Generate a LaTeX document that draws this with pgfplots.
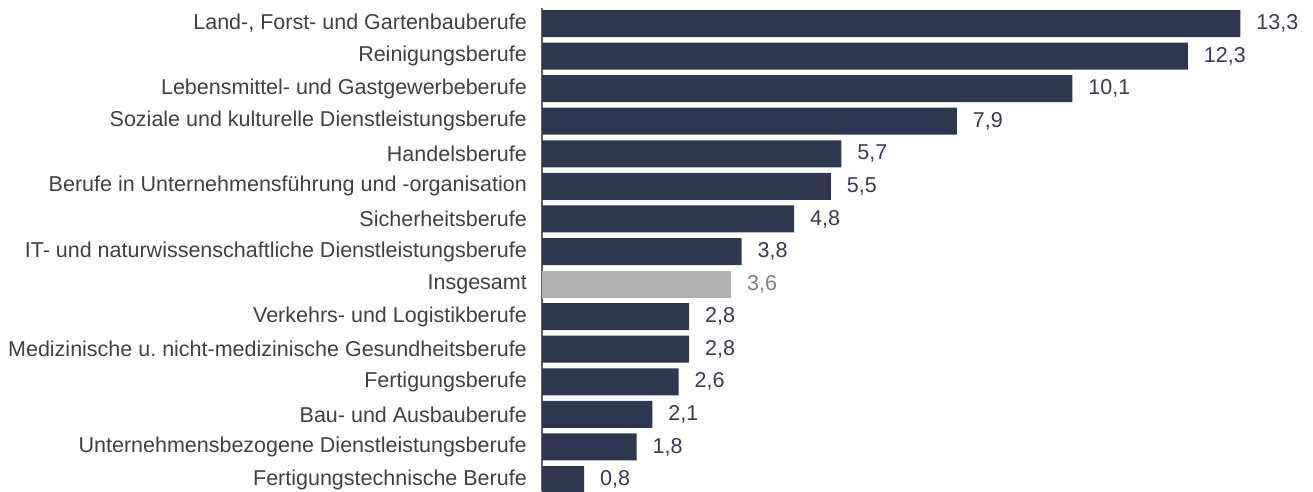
\documentclass[border=0pt]{standalone}
\usepackage{pgfplots}
\pgfplotsset{compat=1.18}
\usepackage{fontspec}
\setmainfont{Liberation Sans}
\frenchspacing
\definecolor{navy}{HTML}{2E3650}
\definecolor{gbar}{HTML}{B0B0B0}
\definecolor{gtxt}{HTML}{808080}
\definecolor{txt}{HTML}{404040}
\definecolor{vtxt}{HTML}{363D52}
\definecolor{axc}{HTML}{606060}
\begin{document}
\begin{tikzpicture}
\useasboundingbox (0,0) rectangle (1313pt,491pt);
\begin{axis}[
  at={(542pt,0pt)}, anchor=south west,
  scale only axis, width=735pt, height=483pt,
  xmin=0, xmax=14, ymin=-0.353, ymax=14.476,
  clip=false,
  axis y line*=left, axis x line=none,
  y axis line style={draw=axc, line width=1.5pt, -},
  ytick={0,...,14},
  yticklabels={Fertigungstechnische Berufe,
    Unternehmensbezogene Dienstleistungsberufe,
    Bau- und Ausbauberufe,
    Fertigungsberufe,
    Medizinische u.\ nicht-medizinische Gesundheitsberufe,
    Verkehrs- und Logistikberufe,
    Insgesamt,
    IT- und naturwissenschaftliche Dienstleistungsberufe,
    Sicherheitsberufe,
    Berufe in Unternehmensführung und -organisation,
    Handelsberufe,
    Soziale und kulturelle Dienstleistungsberufe,
    Lebensmittel- und Gastgewerbeberufe,
    Reinigungsberufe,
    {Land-, Forst- und Gartenbauberufe}},
  major tick length=0pt,
  yticklabel style={font=\fontsize{21.5}{25}\selectfont, text=txt, inner sep=0pt, xshift=-15pt},
  xbar, bar width=27pt, bar shift=0pt,
  nodes near coords,
  nodes near coords style={font=\fontsize{21.5}{25}\selectfont, anchor=west, inner sep=0pt, xshift=16pt},
  /pgf/number format/assume math mode=true,
  /pgf/number format/fixed, /pgf/number format/fixed zerofill,
  /pgf/number format/precision=1, /pgf/number format/use comma,
]
\addplot[draw=none, fill=navy, nodes near coords style={text=vtxt}] coordinates {
  (0.8,0) (1.8,1) (2.1,2) (2.6,3) (2.8,4) (2.8,5)
  (3.8,7) (4.8,8) (5.5,9) (5.7,10) (7.9,11) (10.1,12) (12.3,13) (13.3,14)
};
\addplot[draw=none, fill=gbar, nodes near coords style={text=gtxt}] coordinates {
  (3.6,6)
};
\end{axis}
\end{tikzpicture}
\end{document}
